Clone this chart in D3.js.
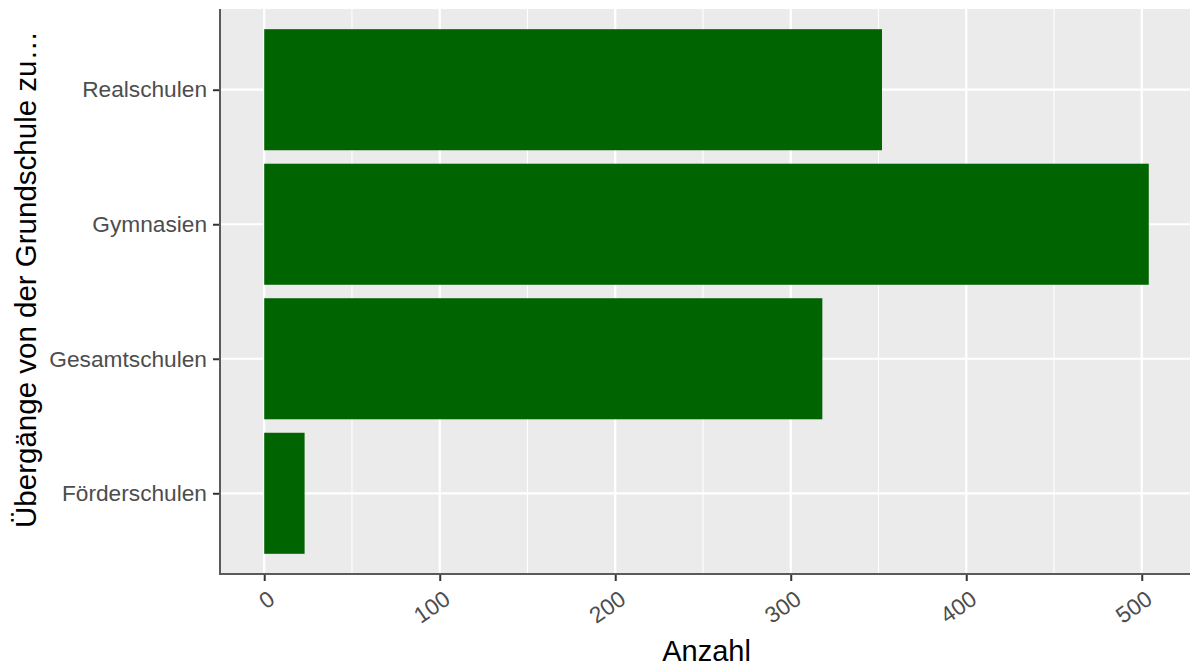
<!DOCTYPE html>
<html>
<head>
<meta charset="utf-8">
<script src="https://cdn.jsdelivr.net/npm/d3@7"></script>
<style>
  html, body { margin: 0; padding: 0; background: #fff; overflow: hidden; }
  svg { display: block; font-family: "Liberation Sans", Arial, sans-serif; }
</style>
</head>
<body>
<svg id="chart" width="1190" height="666"></svg>
<script>
const categories = ["Förderschulen", "Gesamtschulen", "Gymnasien", "Realschulen"];
const values = [23, 318, 504, 352];
const xTicks = [0, 100, 200, 300, 400, 500];
const xMinorTicks = [50, 150, 250, 350, 450];
const xTitle = "Anzahl";
const yTitle = "Übergänge von der Grundschule zu…";

const W = 1190, H = 666;
const panel = { left: 220, right: 1193, top: 9, bottom: 574 };
const svg = d3.select("#chart");

const maxV = d3.max(values);
const expand = maxV * 0.05;
const x = d3.scaleLinear().domain([-expand, maxV + expand]).range([panel.left, panel.right]);

// discrete y: positions 1..n with 0.6 expansion
const n = categories.length;
const yCont = d3.scaleLinear().domain([0.4, n + 0.6]).range([panel.bottom, panel.top]);
const yPos = c => yCont(categories.indexOf(c) + 1);
const band = 0.9;
const bandPx = Math.abs(yCont(band) - yCont(0));

// panel background
svg.append("rect")
  .attr("x", panel.left).attr("y", panel.top)
  .attr("width", panel.right - panel.left).attr("height", panel.bottom - panel.top)
  .attr("fill", "#EBEBEB");

// minor grid
svg.append("g").selectAll("line").data(xMinorTicks).join("line")
  .attr("x1", d => x(d)).attr("x2", d => x(d))
  .attr("y1", panel.top).attr("y2", panel.bottom)
  .attr("stroke", "#fff").attr("stroke-width", 1.1);

// major grid
svg.append("g").selectAll("line").data(xTicks).join("line")
  .attr("x1", d => x(d)).attr("x2", d => x(d))
  .attr("y1", panel.top).attr("y2", panel.bottom)
  .attr("stroke", "#fff").attr("stroke-width", 2.2);
svg.append("g").selectAll("line").data(categories).join("line")
  .attr("x1", panel.left).attr("x2", panel.right)
  .attr("y1", d => yPos(d)).attr("y2", d => yPos(d))
  .attr("stroke", "#fff").attr("stroke-width", 2.2);

// bars
svg.append("g").selectAll("rect").data(categories).join("rect")
  .attr("x", x(0))
  .attr("y", d => yPos(d) - bandPx / 2)
  .attr("width", (d, i) => x(values[i]) - x(0))
  .attr("height", bandPx)
  .attr("fill", "#006400");

// axes
const yAxis = d3.axisLeft(d3.scalePoint().domain(categories).range([yCont(1), yCont(n)]))
  .tickSize(7).tickPadding(6);
const gy = svg.append("g").attr("transform", `translate(${panel.left},0)`).call(yAxis);
gy.select(".domain").remove();
gy.selectAll(".tick line").attr("stroke", "#333").attr("stroke-width", 2);
gy.selectAll(".tick text").attr("fill", "#4D4D4D").style("font-size", "22.7px")
  .style("font-family", "Liberation Sans, Arial, sans-serif");

const xAxis = d3.axisBottom(x).tickValues(xTicks).tickSize(7).tickFormat(d3.format("d"));
const gx = svg.append("g").attr("transform", `translate(0,${panel.bottom})`).call(xAxis);
gx.select(".domain").remove();
gx.selectAll(".tick line").attr("stroke", "#333").attr("stroke-width", 2);
gx.selectAll(".tick text")
  .attr("fill", "#4D4D4D").style("font-size", "22.7px")
  .style("font-family", "Liberation Sans, Arial, sans-serif")
  .attr("text-anchor", "end")
  .attr("dy", null).attr("y", 0)
  .attr("dominant-baseline", "central")
  .attr("transform", "translate(7,22) rotate(-35)");

// axis lines
svg.append("line").attr("x1", panel.left).attr("x2", panel.left)
  .attr("y1", panel.top).attr("y2", panel.bottom + 1)
  .attr("stroke", "#5a5a5a").attr("stroke-width", 2);
svg.append("line").attr("x1", panel.left - 1).attr("x2", panel.right)
  .attr("y1", panel.bottom).attr("y2", panel.bottom)
  .attr("stroke", "#5a5a5a").attr("stroke-width", 2);

// titles
svg.append("text").attr("x", (panel.left + panel.right) / 2).attr("y", 660.5)
  .attr("text-anchor", "middle").attr("fill", "#000")
  .style("font-size", "29px").text(xTitle);
svg.append("text")
  .attr("transform", `translate(35.5,279.5) rotate(-90)`)
  .attr("text-anchor", "middle").attr("fill", "#000")
  .style("font-size", "29.5px").text(yTitle);
</script>
</body>
</html>
